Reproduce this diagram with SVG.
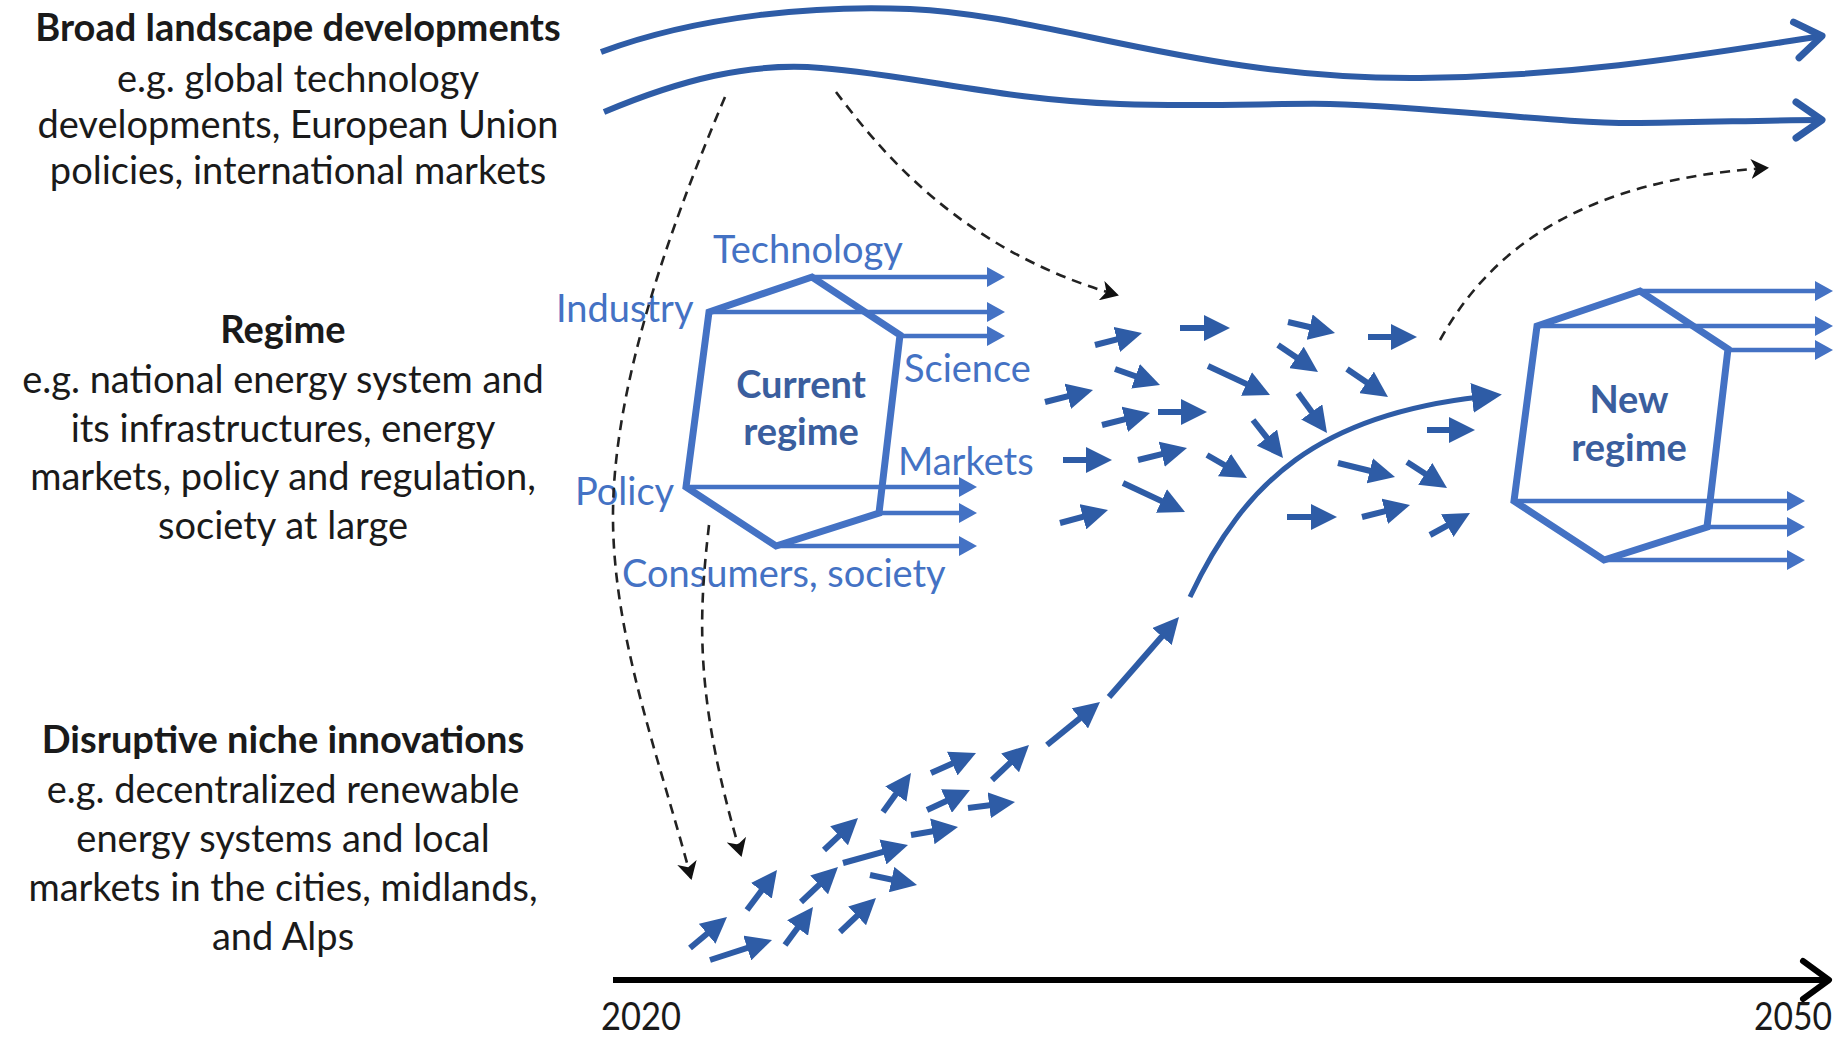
<svg xmlns="http://www.w3.org/2000/svg" xmlns:xlink="http://www.w3.org/1999/xlink" width="1840" height="1041" viewBox="0 0 1840 1041">
  <defs>
    <style>
      text { font-family: Lato, "Liberation Sans", sans-serif; font-size: 38px; }
      .desc { fill: #1a1a1a; text-anchor: middle; }
      .head { font-weight: bold; }
      .lbl { fill: #4472C4; }
      .reg { fill: #3A5E9E; font-weight: bold; text-anchor: middle; }
      .year { fill: #1a1a1a; font-size: 38px; }
      .hex { fill: none; stroke: #4472C4; stroke-width: 7; stroke-linejoin: miter; }
      .out { fill: none; stroke: #4472C4; stroke-width: 4.5; marker-end: url(#head-thin); }
      .wave { fill: none; stroke: #2E5CA6; stroke-width: 6; marker-end: url(#chev-blue); }
      .dash { fill: none; stroke: #222; stroke-width: 2.6; stroke-dasharray: 10 7; marker-end: url(#head-dash); }
      .na { fill: none; stroke: #2E5CA6; stroke-width: 6; stroke-dasharray: 84 100; marker-end: url(#head-blue); }
      .trend { fill: none; stroke: #2E5CA6; stroke-width: 5; marker-end: url(#head-big); }
      .axis { stroke: #000; stroke-width: 6; marker-end: url(#chev-black); }
    </style>
    <marker id="head-blue" viewBox="0 0 26 26" refX="26" refY="13" markerWidth="26" markerHeight="26" markerUnits="userSpaceOnUse" orient="auto">
      <path d="M0,0 L26,13 L0,26 z" fill="#2E5CA6"/>
    </marker>
    <marker id="head-thin" viewBox="0 0 18 20" refX="10" refY="10" markerWidth="18" markerHeight="20" markerUnits="userSpaceOnUse" orient="auto">
      <path d="M0,0 L18,10 L0,20 z" fill="#4472C4"/>
    </marker>
    <marker id="head-big" viewBox="0 0 30 30" refX="8" refY="15" markerWidth="30" markerHeight="30" markerUnits="userSpaceOnUse" orient="auto">
      <path d="M0,0 L30,15 L0,30 z" fill="#2E5CA6"/>
    </marker>
    <marker id="chev-blue" viewBox="-4 -4 40 44" refX="28" refY="18" markerWidth="40" markerHeight="44" markerUnits="userSpaceOnUse" orient="auto">
      <path d="M2,0 L28,18 L2,36" fill="none" stroke="#2E5CA6" stroke-width="7" stroke-linejoin="round" stroke-linecap="round"/>
    </marker>
    <marker id="chev-black" viewBox="-4 -4 40 46" refX="28" refY="19" markerWidth="40" markerHeight="46" markerUnits="userSpaceOnUse" orient="auto">
      <path d="M2,0 L28,19 L2,38" fill="none" stroke="#000" stroke-width="6" stroke-linejoin="round" stroke-linecap="round"/>
    </marker>
    <marker id="head-dash" viewBox="0 0 18 20" refX="16" refY="10" markerWidth="18" markerHeight="20" markerUnits="userSpaceOnUse" orient="auto">
      <path d="M0,0 L18,10 L0,20 L5,10 z" fill="#111"/>
    </marker>
    <!-- hexagonal regime frame with its outgoing strands -->
    <g id="regime-frame">
      <polygon class="hex" points="709,312 812,277 900,335 879,513 776,546 686,487"/>
      <path class="out" d="M812 277 H997"/>
      <path class="out" d="M709 312 H997"/>
      <path class="out" d="M900 336 H997"/>
      <path class="out" d="M686 487 H969"/>
      <path class="out" d="M879 513 H969"/>
      <path class="out" d="M776 546 H969"/>
    </g>
  </defs>

  <rect width="1840" height="1041" fill="#fff"/>

  <!-- level descriptions -->
  <g id="landscape-text">
    <text class="desc head" x="298" y="41" font-size="39">Broad landscape developments</text>
    <text class="desc" x="298" y="92">e.g. global technology</text>
    <text class="desc" x="298" y="138">developments, European Union</text>
    <text class="desc" x="298" y="184">policies, international markets</text>
  </g>
  <g id="regime-text">
    <text class="desc head" x="283" y="343">Regime</text>
    <text class="desc" x="283" y="393">e.g. national energy system and</text>
    <text class="desc" x="283" y="442">its infrastructures, energy</text>
    <text class="desc" x="283" y="490">markets, policy and regulation,</text>
    <text class="desc" x="283" y="539">society at large</text>
  </g>
  <g id="niche-text">
    <text class="desc head" x="283" y="753">Disruptive niche innovations</text>
    <text class="desc" x="283" y="803">e.g. decentralized renewable</text>
    <text class="desc" x="283" y="852">energy systems and local</text>
    <text class="desc" x="283" y="901">markets in the cities, midlands,</text>
    <text class="desc" x="283" y="950">and Alps</text>
  </g>

  <!-- landscape pressure waves -->
  <g id="landscape-waves">
    <path class="wave" d="M601 52 C700 15, 820 5, 910 9 C1050 15, 1200 80, 1420 78 C1580 76, 1700 55, 1822 36"/>
    <path class="wave" d="M604 112 C680 80, 750 62, 821 68 C920 76, 1000 100, 1120 104 C1200 107, 1280 103, 1330 104 C1450 108, 1560 124, 1640 123 C1720 122, 1770 120, 1822 120"/>
  </g>

  <!-- current regime -->
  <g id="current-regime">
    <use href="#regime-frame" xlink:href="#regime-frame"/>
    <text class="lbl" x="713" y="263">Technology</text>
    <text class="lbl" x="556" y="322">Industry</text>
    <text class="lbl" x="904" y="382">Science</text>
    <text class="lbl" x="898" y="475">Markets</text>
    <text class="lbl" x="575" y="505">Policy</text>
    <text class="lbl" x="622" y="587">Consumers, society</text>
    <text class="reg" x="801" y="398">Current</text>
    <text class="reg" x="801" y="445">regime</text>
  </g>

  <!-- new regime -->
  <g id="new-regime">
    <use href="#regime-frame" xlink:href="#regime-frame" transform="translate(828,14)"/>
    <text class="reg" x="1629" y="413">New</text>
    <text class="reg" x="1629" y="461">regime</text>
  </g>

  <!-- niche innovations gathering momentum -->
  <g id="niche-arrows">
    <path class="na" pathLength="100" d="M690 948 L727 917"/>
    <path class="na" pathLength="100" d="M710 960 L772 940"/>
    <path class="na" pathLength="100" d="M747 910 L777 870"/>
    <path class="na" pathLength="100" d="M785 945 L813 907"/>
    <path class="na" pathLength="100" d="M801 902 L838 867"/>
    <path class="na" pathLength="100" d="M824 850 L858 818"/>
    <path class="na" pathLength="100" d="M840 932 L876 898"/>
    <path class="na" pathLength="100" d="M843 863 L908 845"/>
    <path class="na" pathLength="100" d="M870 875 L917 885"/>
    <path class="na" pathLength="100" d="M883 812 L911 773"/>
    <path class="na" pathLength="100" d="M911 835 L958 827"/>
    <path class="na" pathLength="100" d="M927 810 L970 790"/>
    <path class="na" pathLength="100" d="M931 773 L976 753"/>
    <path class="na" pathLength="100" d="M968 808 L1015 802"/>
    <path class="na" pathLength="100" d="M992 780 L1029 745"/>
    <path class="na" pathLength="100" d="M1047 745 L1100 702"/>
    <path class="na" pathLength="100" d="M1109 697 L1179 617"/>
  </g>

  <!-- regime destabilisation and the breakthrough trajectory -->
  <g id="transition-arrows">
    <path class="na" pathLength="100" d="M1095 345 L1142 333"/>
    <path class="na" pathLength="100" d="M1180 328 L1230 328"/>
    <path class="na" pathLength="100" d="M1288 322 L1335 333"/>
    <path class="na" pathLength="100" d="M1368 337 L1417 337"/>
    <path class="na" pathLength="100" d="M1115 369 L1160 385"/>
    <path class="na" pathLength="100" d="M1045 402 L1093 390"/>
    <path class="na" pathLength="100" d="M1208 366 L1270 395"/>
    <path class="na" pathLength="100" d="M1278 345 L1318 372"/>
    <path class="na" pathLength="100" d="M1347 369 L1388 397"/>
    <path class="na" pathLength="100" d="M1102 425 L1150 413"/>
    <path class="na" pathLength="100" d="M1158 412 L1207 412"/>
    <path class="na" pathLength="100" d="M1298 393 L1327 433"/>
    <path class="na" pathLength="100" d="M1253 420 L1283 458"/>
    <path class="na" pathLength="100" d="M1427 430 L1475 430"/>
    <path class="na" pathLength="100" d="M1063 460 L1112 460"/>
    <path class="na" pathLength="100" d="M1138 460 L1187 448"/>
    <path class="na" pathLength="100" d="M1207 455 L1247 478"/>
    <path class="na" pathLength="100" d="M1338 463 L1395 477"/>
    <path class="na" pathLength="100" d="M1407 462 L1447 488"/>
    <path class="na" pathLength="100" d="M1123 483 L1185 512"/>
    <path class="na" pathLength="100" d="M1060 523 L1108 510"/>
    <path class="na" pathLength="100" d="M1287 517 L1337 517"/>
    <path class="na" pathLength="100" d="M1362 517 L1410 505"/>
    <path class="na" pathLength="100" d="M1430 535 L1470 513"/>
    <path class="trend" d="M1190 597 C1245 480, 1320 415, 1480 397"/>
  </g>

  <!-- influence links between levels -->
  <g id="connectors">
    <path class="dash" d="M725 97 C660 250, 612 400, 613 520 C614 640, 660 760, 691 878"/>
    <path class="dash" d="M709 525 C698 620, 695 700, 741 855"/>
    <path class="dash" d="M836 92 C880 150, 960 250, 1117 295"/>
    <path class="dash" d="M1440 340 C1490 250, 1580 180, 1767 168"/>
  </g>

  <!-- time axis -->
  <g id="timeline">
    <line class="axis" x1="613" y1="980" x2="1829" y2="980"/>
    <text class="year" x="601" y="1030" textLength="80" lengthAdjust="spacingAndGlyphs">2020</text>
    <text class="year" x="1754" y="1030" textLength="78" lengthAdjust="spacingAndGlyphs">2050</text>
  </g>
</svg>
